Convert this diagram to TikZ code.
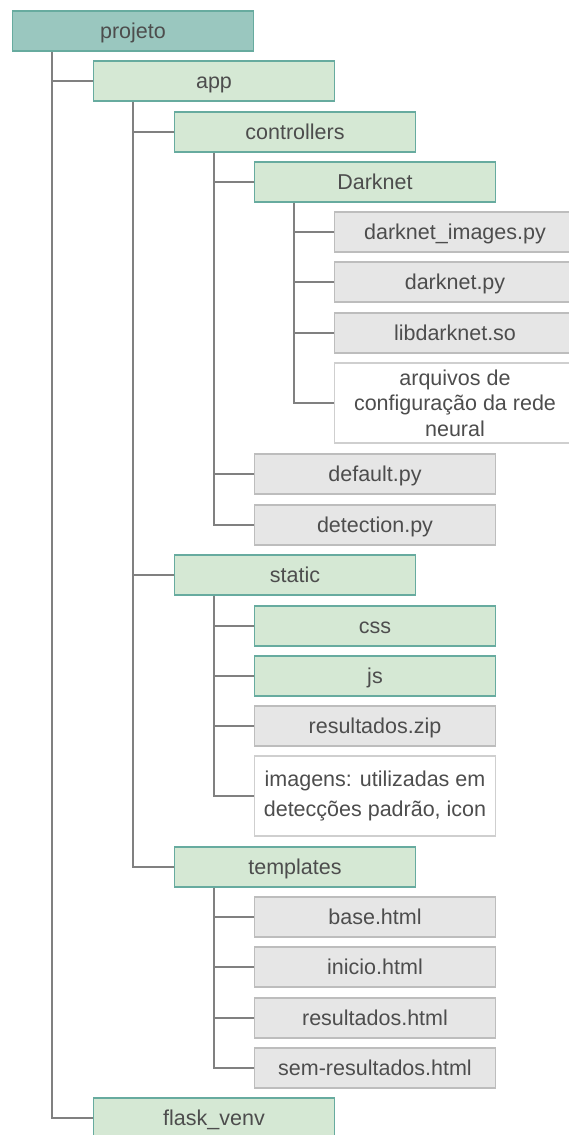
\documentclass[tikz,border=0pt]{standalone}
\usepackage{fontspec}
\setmainfont{Liberation Sans}
\definecolor{txt}{HTML}{4D4D4D}
\definecolor{tealfill}{HTML}{9AC7BF}
\definecolor{tealline}{HTML}{67AB9F}
\definecolor{greenfill}{HTML}{D5E8D4}
\definecolor{grayfill}{HTML}{E6E6E6}
\definecolor{grayline}{HTML}{BDBDBD}
\definecolor{whiteline}{HTML}{CFCFCF}
\definecolor{conn}{HTML}{808080}
\begin{document}
\begin{tikzpicture}[x=1pt,y=-1pt,
  box/.style={rectangle, minimum width=241pt, minimum height=40pt, inner sep=0pt, line width=1.5pt, text=txt, font=\fontsize{21.5}{25.5}\selectfont},
  one/.style={box, text height=18pt, text depth=3pt},
  root/.style={one, fill=tealfill, draw=tealline},
  folder/.style={one, fill=greenfill, draw=tealline},
  file/.style={one, fill=grayfill, draw=grayline},
  note/.style={box, fill=white, draw=whiteline, minimum height=80pt, align=center},
  link/.style={draw=conn, line width=2pt}]
\useasboundingbox (0,0) rectangle (568,1135);
\fill[white] (0,0) rectangle (568,1135);
% nodes
\node[root] (projeto) at (133,31) {projeto};
\node[folder] (app) at (214,81) {app};
\node[folder] (controllers) at (295,132) {controllers};
\node[folder] (darknet) at (375,182) {Darknet};
\node[file] (dimg) at (455,232) {darknet\_images.py};
\node[file] (dpy) at (455,282) {darknet.py};
\node[file] (lib) at (455,333) {libdarknet.so};
\node[note, font=\fontsize{21.5}{25.5}\selectfont] (arq) at (455,403) {arquivos de\\configuração da rede\\neural};
\node[file] (default) at (375,474) {default.py};
\node[file] (detection) at (375,525) {detection.py};
\node[folder] (static) at (295,575) {static};
\node[folder] (css) at (375,626) {css};
\node[folder] (js) at (375,676) {js};
\node[file] (reszip) at (375,726) {resultados.zip};
\node[note, font=\fontsize{21.5}{30.5}\selectfont] (imagens) at (375,796) {imagens: utilizadas em\\detecções padrão, icon};
\node[folder] (templates) at (295,867) {templates};
\node[file] (base) at (375,917) {base.html};
\node[file] (inicio) at (375,967) {inicio.html};
\node[file] (reshtml) at (375,1018) {resultados.html};
\node[file] (semres) at (375,1068) {sem-resultados.html};
\node[folder] (flask) at (214,1118) {flask\_venv};
% connectors
\foreach \p/\c in {projeto/app, projeto/flask,
  app/controllers, app/static, app/templates,
  controllers/darknet, controllers/default, controllers/detection,
  darknet/dimg, darknet/dpy, darknet/lib, darknet/arq,
  static/css, static/js, static/reszip, static/imagens,
  templates/base, templates/inicio, templates/reshtml, templates/semres}
  \draw[link] ([xshift=40pt]\p.south west) |- (\c.west);
\end{tikzpicture}
\end{document}
